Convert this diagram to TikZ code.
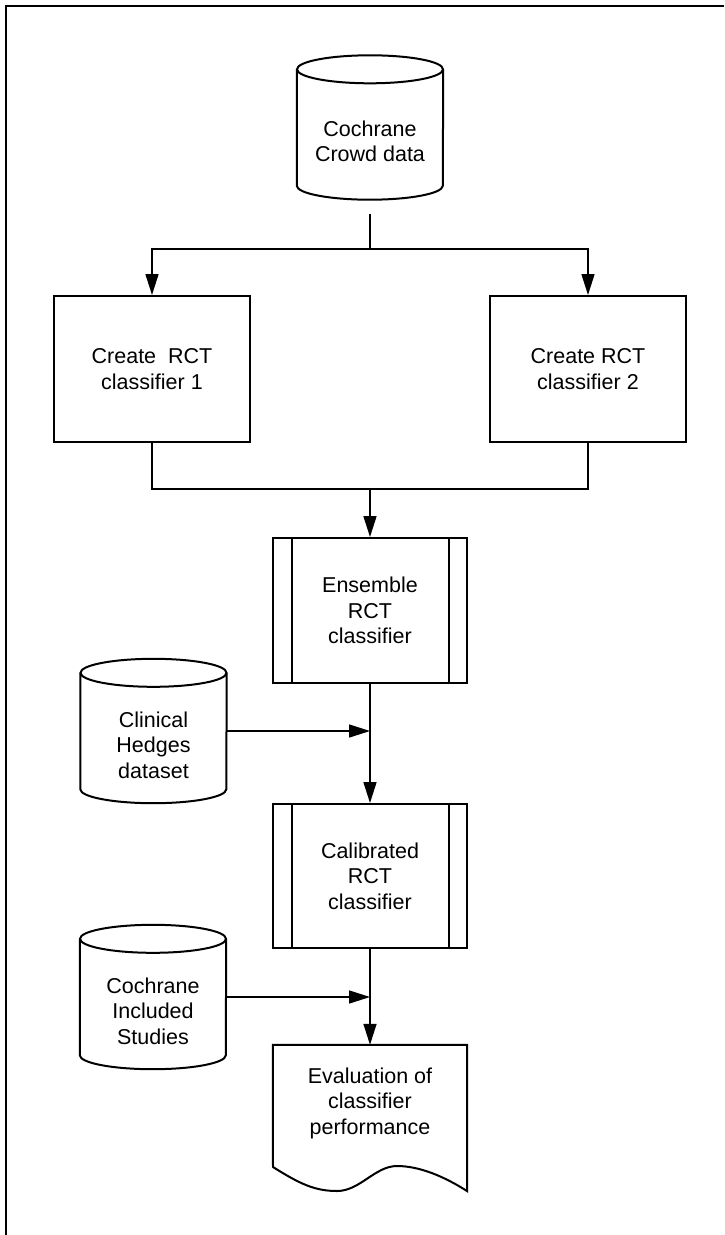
\documentclass[tikz,border=0pt]{standalone}
\usepackage{fontspec}
\setmainfont{Liberation Sans}
\usetikzlibrary{arrows.meta}
\newcommand\drawdb[1]{%
  \draw[shapeline] ([yshift=14pt]#1.north west) -- ([yshift=14pt]#1.south west)
    arc[start angle=180,end angle=360,x radius=73pt,y radius=14pt]
    -- ([yshift=14pt]#1.north east);
  \draw[shapeline] ([yshift=14pt]#1.north) ellipse[x radius=73pt, y radius=14pt];}
\begin{document}
\begin{tikzpicture}[x=1pt,y=-1pt,
  every node/.style={font=\fontsize{21.5}{25.5}\selectfont, align=center, inner sep=0pt},
  procbox/.style={draw, line width=2pt, minimum width=196pt, minimum height=146pt},
  subbox/.style={draw, line width=2pt, minimum width=194pt, minimum height=145pt},
  dbtext/.style={minimum width=146pt, minimum height=116pt},
  doctext/.style={minimum width=194pt, minimum height=116pt},
  shapeline/.style={line width=2pt},
  conn/.style={line width=1.6pt},
  arr/.style={conn, -{Triangle[length=21pt,width=13pt]}}]
\useasboundingbox (0,0) rectangle (724,1235);
% frame
\draw[line width=2pt] (6,1235) -- (6,6) -- (724,6);

% nodes
\node[dbtext] (crowd) at (370,141.5) {Cochrane\\Crowd data};
\node[procbox] (c1) at (152,369) {Create~ RCT\\classifier 1};
\node[procbox] (c2) at (588,369) {Create RCT\\classifier 2};
\node[subbox] (ens) at (370,610.5) {Ensemble\\RCT\\classifier};
\node[subbox, minimum height=144pt] (cal) at (370,876) {Calibrated\\RCT\\classifier};
\node[dbtext] (hedges) at (153.5,745) {Clinical\\Hedges\\dataset};
\node[dbtext] (incl) at (153,1011) {Cochrane\\Included\\Studies};
\node[doctext] (eval) at (370,1103) {Evaluation of\\classifier\\performance};

% shapes
\drawdb{crowd}
\drawdb{hedges}
\drawdb{incl}
\foreach \n in {ens,cal}{
  \draw[shapeline] ([xshift=20pt]\n.north west) -- ([xshift=20pt]\n.south west);
  \draw[shapeline] ([xshift=-19pt]\n.north east) -- ([xshift=-19pt]\n.south east);
}
\draw[shapeline] (eval.north west) -- (273,1167)
  .. controls (300,1184) and (315,1191) .. (337,1191)
  .. controls (360,1191) and (375,1166) .. (397,1166)
  .. controls (420,1166) and (445,1177) .. (467,1191)
  -- (eval.north east) -- cycle;

% connectors
\coordinate (crowdbot) at ([yshift=-14pt]crowd.south);
\coordinate (split) at (370,249);
\coordinate (join) at (370,489);
\coordinate (hout) at ([yshift=14pt]hedges.east);
\coordinate (iout) at ([yshift=14pt]incl.east);
\draw[conn] (crowdbot) -- (split);
\draw[arr] (split) -| (c1.north);
\draw[arr] (split) -| (c2.north);
\draw[conn] (c1.south) |- (join);
\draw[conn] (c2.south) |- (join);
\draw[arr] (join) -- (ens.north);
\draw[arr] (ens.south) -- (cal.north);
\draw[arr] (hout) -- (hout -| ens.south);
\draw[arr] (cal.south) -- (eval.north);
\draw[arr] (iout) -- (iout -| cal.south);
\end{tikzpicture}
\end{document}
